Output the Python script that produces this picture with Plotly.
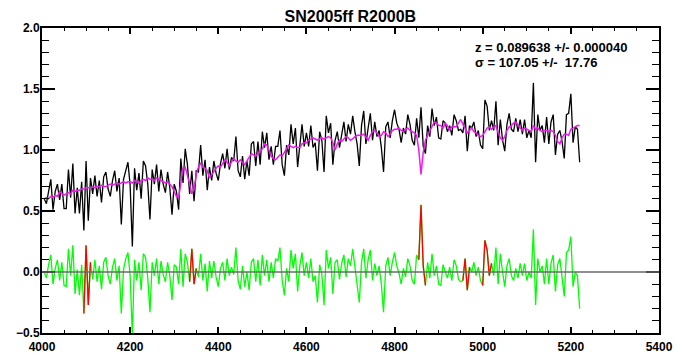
import numpy as np
import plotly.graph_objects as go

# Rest-frame wavelength grid of the fitted spectrum (Angstrom)
wave_start = 4005
wave_step = 5

# Best-fit template (magenta)
model_flux = [
    0.60, 0.61, 0.60, 0.62, 0.61, 0.63, 0.62, 0.66, 0.64, 0.63,
    0.64, 0.65, 0.64, 0.67, 0.66, 0.67, 0.67, 0.68, 0.68, 0.69,
    0.69, 0.69, 0.70, 0.69, 0.70, 0.70, 0.71, 0.70, 0.70, 0.71,
    0.72, 0.71, 0.72, 0.73, 0.72, 0.73, 0.74, 0.73, 0.74, 0.74,
    0.73, 0.75, 0.74, 0.73, 0.75, 0.76, 0.75, 0.77, 0.76, 0.76,
    0.75, 0.77, 0.76, 0.75, 0.74, 0.73, 0.74, 0.72, 0.70, 0.66,
    0.62, 0.61, 0.74, 0.85, 0.86, 0.80, 0.72, 0.64, 0.68, 0.80,
    0.86, 0.89, 0.86, 0.85, 0.83, 0.77, 0.80, 0.82, 0.85, 0.87,
    0.86, 0.89, 0.92, 0.90, 0.87, 0.90, 0.93, 0.91, 0.90, 0.92,
    0.90, 0.88, 0.91, 0.94, 0.97, 0.96, 0.95, 0.97, 0.99, 1.01,
    1.05, 1.04, 1.00, 0.95, 0.93, 0.92, 0.94, 0.96, 0.95, 0.98,
    1.01, 1.04, 1.03, 1.02, 1.03, 1.02, 1.02, 1.05, 1.06, 1.06,
    1.08, 1.09, 1.10, 1.09, 1.08, 1.09, 1.10, 1.09, 1.10, 1.11,
    1.10, 1.06, 1.00, 1.05, 1.08, 1.07, 1.09, 1.11, 1.10, 1.08,
    1.09, 1.11, 1.12, 1.12, 1.12, 1.13, 1.10, 1.08, 1.12, 1.15,
    1.16, 1.14, 1.11, 1.12, 1.15, 1.14, 1.11, 1.13, 1.16, 1.17,
    1.17, 1.18, 1.16, 1.15, 1.17, 1.18, 1.16, 1.15, 1.14, 1.12,
    1.00, 0.80, 0.98, 1.08, 1.12, 1.16, 1.19, 1.23, 1.22, 1.20,
    1.20, 1.18, 1.22, 1.20, 1.16, 1.19, 1.19, 1.19, 1.22, 1.25,
    1.21, 1.17, 1.14, 1.16, 1.18, 1.15, 1.14, 1.12, 1.11, 1.12,
    1.15, 1.18, 1.19, 1.17, 1.19, 1.20, 1.14, 1.10, 1.08, 1.11,
    1.16, 1.19, 1.20, 1.22, 1.23, 1.20, 1.18, 1.16, 1.18, 1.17,
    1.16, 1.15, 1.20, 1.17, 1.18, 1.16, 1.15, 1.16, 1.16, 1.15,
    1.16, 1.15, 1.12, 1.07, 1.05, 1.10, 1.13, 1.13, 1.12, 1.17,
    1.18, 1.19, 1.20, 1.20,
]

# Data minus template (green, red where masked)
residual = [
    0.00, -0.05, 0.06, 0.14, -0.10, 0.03, 0.10, -0.07, 0.08, -0.11,
    -0.12, 0.19, -0.03, 0.22, -0.18, 0.02, -0.19, 0.06, -0.34, 0.22,
    -0.27, 0.08, -0.06, 0.10, -0.08, 0.05, -0.14, 0.08, 0.12, -0.03,
    -0.10, 0.04, 0.11, -0.07, 0.05, -0.34, 0.02, 0.11, 0.16, -0.03,
    -0.52, 0.10, -0.07, 0.08, -0.15, 0.15, 0.12, -0.05, -0.33, 0.08,
    -0.03, 0.11, -0.10, 0.09, -0.02, -0.08, 0.08, -0.03, -0.23, 0.06,
    0.04, -0.10, 0.19, -0.12, 0.15, 0.08, -0.08, 0.19, -0.10, 0.03,
    -0.04, 0.15, -0.07, 0.07, -0.16, 0.09, -0.05, 0.09, -0.04, -0.12,
    0.03, 0.08, -0.07, 0.11, -0.03, 0.04, -0.02, 0.20, -0.07, -0.14,
    0.05, -0.12, 0.00, -0.15, 0.08, 0.11, -0.08, 0.10, -0.11, 0.14,
    -0.03, 0.10, -0.08, 0.08, -0.05, 0.11, 0.09, 0.20, -0.07, -0.19,
    0.03, -0.08, 0.18, 0.03, 0.15, -0.16, 0.05, 0.16, -0.03, 0.08,
    -0.05, 0.11, -0.08, -0.03, -0.25, 0.06, -0.02, -0.27, 0.18, 0.03,
    0.12, -0.18, 0.08, 0.10, -0.06, 0.07, 0.14, -0.04, 0.11, 0.05,
    0.19, 0.04, -0.07, -0.25, 0.08, 0.19, -0.05, 0.10, 0.18, -0.07,
    0.07, -0.03, 0.05, -0.10, -0.33, 0.05, 0.12, -0.03, 0.08, 0.16,
    0.05, -0.01, -0.10, 0.03, -0.04, 0.11, 0.05, -0.07, -0.10, 0.14,
    0.10, 0.55, 0.05, -0.11, 0.08, -0.05, 0.15, -0.03, 0.05, -0.10,
    -0.11, 0.06, 0.00, -0.05, 0.04, -0.07, 0.10, 0.05, -0.06, -0.08,
    -0.07, 0.11, -0.15, 0.04, 0.00, 0.08, -0.03, 0.04, -0.07, -0.11,
    0.26, 0.18, -0.03, 0.07, -0.03, 0.20, -0.10, 0.15, 0.00, -0.12,
    0.05, 0.11, -0.03, -0.07, 0.03, -0.05, 0.07, -0.03, 0.07, -0.07,
    0.00, -0.05, 0.35, -0.27, 0.11, 0.00, 0.05, -0.10, 0.11, -0.10,
    0.07, 0.14, -0.16, 0.06, 0.11, -0.03, -0.20, 0.16, 0.18, 0.29,
    -0.12, 0.00, -0.03, -0.30,
]

# Emission-line windows excluded from the fit
masked_regions = [(4095, 4110), (4335, 4350), (4855, 4870), (4955, 4970), (5000, 5020)]

title_text = "SN2005ff R2000B"
fit_lines = ["z = 0.089638 +/- 0.000040", "\u03c3 = 107.05 +/-\u00a0 17.76"]

wave = wave_start + wave_step * np.arange(len(model_flux))
model = np.array(model_flux)
resid = np.array(residual)
flux = model + resid

# Residual pieces inside the masked windows, separated by gaps
mx, my = [], []
for lo, hi in masked_regions:
    sel = (wave >= lo) & (wave <= hi)
    mx += list(wave[sel]) + [None]
    my += list(resid[sel]) + [None]

font_family = "Liberation Sans, Arial, Helvetica, sans-serif"

fig = go.Figure()
fig.add_trace(go.Scatter(x=wave, y=flux, mode="lines",
                         line=dict(color="black", width=1.3)))
fig.add_trace(go.Scatter(x=wave, y=model, mode="lines",
                         line=dict(color="#f019f0", width=1.5)))
fig.add_trace(go.Scatter(x=wave, y=resid, mode="lines",
                         line=dict(color="#00ff00", width=1.3)))
fig.add_trace(go.Scatter(x=mx, y=my, mode="lines", connectgaps=False,
                         line=dict(color="#ff0000", width=1.3)))

fig.add_shape(type="line", xref="paper", yref="y", x0=0, x1=1, y0=0, y1=0,
              line=dict(color="#6a6a6a", width=1.5), layer="above")

for i, txt in enumerate(fit_lines):
    fig.add_annotation(x=4977, y=1.840 - 0.123 * i, xref="x", yref="y",
                       text=txt, showarrow=False, xanchor="left", yanchor="middle",
                       font=dict(family=font_family, size=13, color="black", weight="bold"))

axis_common = dict(showline=True, linecolor="black", linewidth=2, mirror="ticks",
                   ticks="inside", tickcolor="black", tickwidth=1.5,
                   showgrid=False, zeroline=False, automargin=False,
                   tickfont=dict(family=font_family, size=12, color="black", weight="bold"))

fig.update_xaxes(range=[4000, 5400], tick0=4000, dtick=200, ticklen=6, ticklabelstandoff=2,
                 minor=dict(dtick=50, ticklen=3, ticks="inside", tickcolor="black", tickwidth=1.2),
                 **axis_common)
fig.update_yaxes(range=[-0.5, 2.0], tick0=-0.5, dtick=0.5, ticklen=13, tickformat=".1f",
                 ticklabelstandoff=-2,
                 minor=dict(dtick=0.1, ticklen=7, ticks="inside", tickcolor="black", tickwidth=1.2),
                 **axis_common)

fig.update_layout(
    width=675, height=357,
    margin=dict(l=42, r=16, t=28, b=24),
    paper_bgcolor="white", plot_bgcolor="white",
    showlegend=False,
    title=dict(text=title_text, x=0.519, xanchor="center", y=0.955, yanchor="middle",
               yref="container",
               font=dict(family=font_family, size=16, color="black", weight="bold")),
)

fig.write_html("out.html")
